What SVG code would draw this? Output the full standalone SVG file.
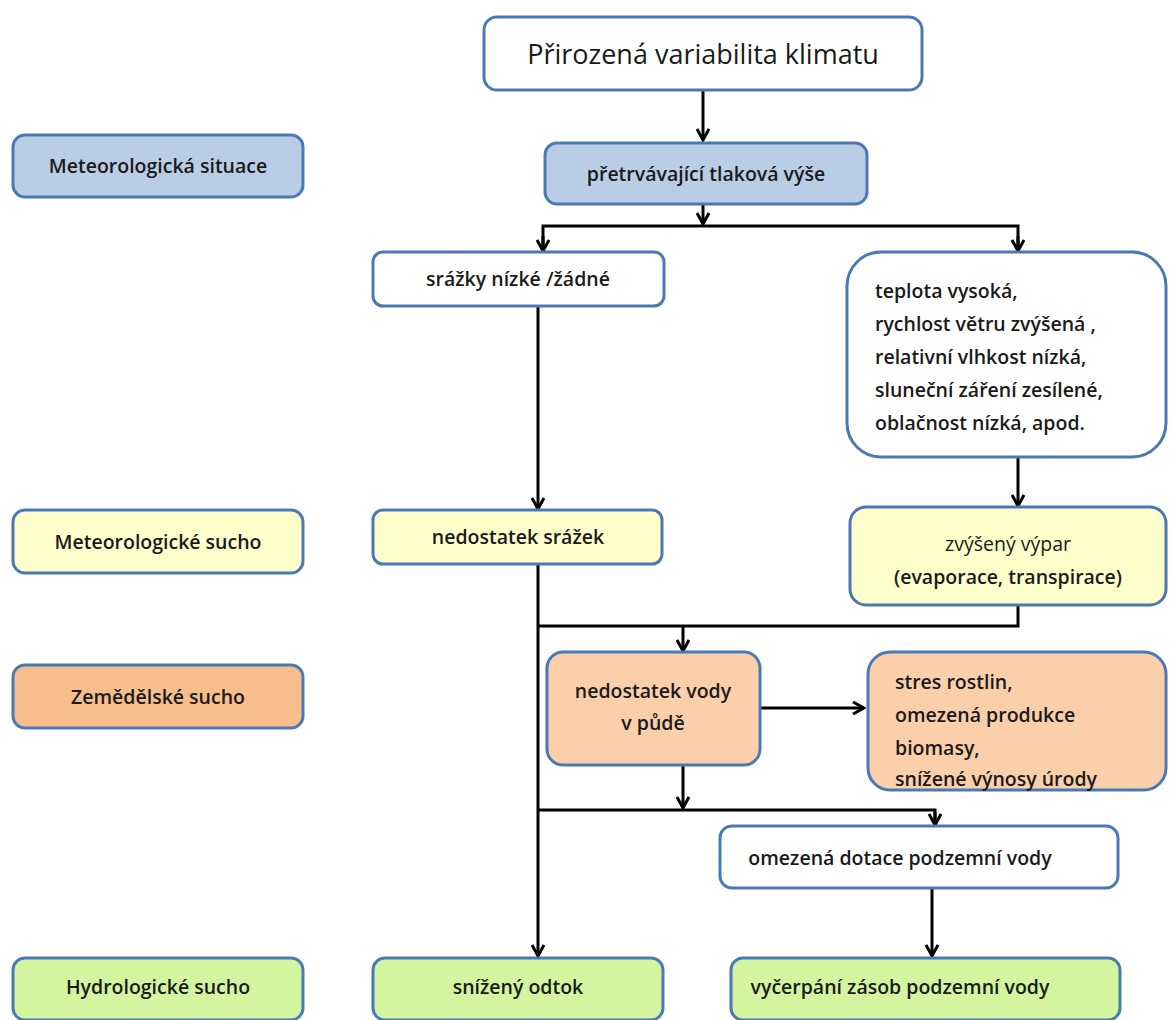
<svg xmlns="http://www.w3.org/2000/svg" width="1170" height="1020" viewBox="0 0 1170 1020">
<style>
.box{stroke:#4a7ab5;stroke-width:3}
.w{fill:#ffffff}
.b{fill:#b9cde5}
.y{fill:#ffffcc}
.o{fill:#fbcfaa}
.lo{fill:#f8bd8c}
.g{fill:#d3f5a0}
text{font-family:"Open Sans","Liberation Sans",sans-serif;font-size:19.5px;font-weight:600;fill:#1a1a1a}
.c{text-anchor:middle}
.con{stroke:#000;stroke-width:3;fill:none}
</style>
<defs>
<marker id="ar" viewBox="0 0 14 14" refX="12" refY="7" markerWidth="14" markerHeight="14" markerUnits="userSpaceOnUse" orient="auto">
<path d="M1,1 L12,7 L1,13" fill="none" stroke="#000" stroke-width="3"/>
</marker>
</defs>
<rect width="1170" height="1020" fill="#ffffff"/>
<g id="connectors">
<line class="con" x1="703" y1="90" x2="703" y2="140" marker-end="url(#ar)"/>
<line class="con" x1="703" y1="204" x2="703" y2="224" marker-end="url(#ar)"/>
<path class="con" d="M543,251 V226 H1018 V251"/>
<line class="con" x1="543" y1="236" x2="543" y2="251" marker-end="url(#ar)"/>
<line class="con" x1="1018" y1="236" x2="1018" y2="251" marker-end="url(#ar)"/>
<line class="con" x1="538" y1="306" x2="538" y2="509" marker-end="url(#ar)"/>
<line class="con" x1="1018" y1="457" x2="1018" y2="506" marker-end="url(#ar)"/>
<line class="con" x1="538" y1="564" x2="538" y2="956" marker-end="url(#ar)"/>
<path class="con" d="M1018,605 V626 H538"/>
<line class="con" x1="683" y1="626" x2="683" y2="651" marker-end="url(#ar)"/>
<line class="con" x1="683" y1="765" x2="683" y2="808" marker-end="url(#ar)"/>
<path class="con" d="M538,810 H935 V825"/>
<line class="con" x1="935" y1="812" x2="935" y2="825" marker-end="url(#ar)"/>
<line class="con" x1="760" y1="708" x2="864" y2="708" marker-end="url(#ar)"/>
<line class="con" x1="932" y1="888" x2="932" y2="956" marker-end="url(#ar)"/>
</g>
<g id="n-climate"><rect class="box w" x="484" y="17" width="438" height="73" rx="13"/><text class="c" x="703" y="64" style="font-size:27px;font-weight:400">Přirozená variabilita klimatu</text></g>
<g id="n-meteo-situace"><rect class="box b" x="13" y="135" width="290" height="62" rx="12"/><text class="c" x="158" y="173">Meteorologická situace</text></g>
<g id="n-vyse"><rect class="box b" x="545" y="143" width="322" height="61" rx="12"/><text class="c" x="706" y="181">přetrvávající tlaková výše</text></g>
<g id="n-srazky"><rect class="box w" x="373" y="252" width="291" height="54" rx="10"/><text class="c" x="518" y="286">srážky nízké /žádné</text></g>
<g id="n-teplota"><rect class="box w" x="847" y="252" width="319" height="205" rx="34"/>
<text x="875" y="298">teplota vysoká,</text>
<text x="875" y="331">rychlost větru zvýšená ,</text>
<text x="875" y="364">relativní vlhkost nízká,</text>
<text x="875" y="397">sluneční záření zesílené,</text>
<text x="875" y="430">oblačnost nízká, apod.</text></g>
<g id="n-meteo-sucho"><rect class="box y" x="13" y="510" width="290" height="63" rx="12"/><text class="c" x="158" y="549">Meteorologické sucho</text></g>
<g id="n-nedostatek-srazek"><rect class="box y" x="373" y="510" width="289" height="54" rx="10"/><text class="c" x="518" y="544">nedostatek srážek</text></g>
<g id="n-vypar"><rect class="box y" x="850" y="507" width="316" height="98" rx="16"/><text class="c" x="1008" y="551" style="font-weight:400">zvýšený výpar</text><text class="c" x="1008" y="584">(evaporace, transpirace)</text></g>
<g id="n-zemedelske"><rect class="box lo" x="13" y="665" width="290" height="63" rx="12"/><text class="c" x="158" y="704">Zemědělské sucho</text></g>
<g id="n-voda-puda"><rect class="box o" x="547" y="652" width="213" height="113" rx="16"/><text class="c" x="653" y="698">nedostatek vody</text><text class="c" x="653" y="730">v půdě</text></g>
<g id="n-stres"><rect class="box o" x="868" y="652" width="298" height="138" rx="22"/>
<text x="895" y="689">stres rostlin,</text>
<text x="895" y="722">omezená produkce</text>
<text x="895" y="755">biomasy,</text>
<text x="895" y="786">snížené výnosy úrody</text></g>
<g id="n-dotace"><rect class="box w" x="720" y="826" width="398" height="62" rx="12"/><text class="c" x="900" y="865">omezená dotace podzemní vody</text></g>
<g id="n-hydro"><rect class="box g" x="13" y="958" width="290" height="62" rx="12"/><text class="c" x="158" y="994">Hydrologické sucho</text></g>
<g id="n-odtok"><rect class="box g" x="373" y="958" width="290" height="62" rx="12"/><text class="c" x="518" y="994">snížený odtok</text></g>
<g id="n-vycerpani"><rect class="box g" x="731" y="958" width="389" height="62" rx="12"/><text class="c" x="900" y="994">vyčerpání zásob podzemní vody</text></g>
</svg>
